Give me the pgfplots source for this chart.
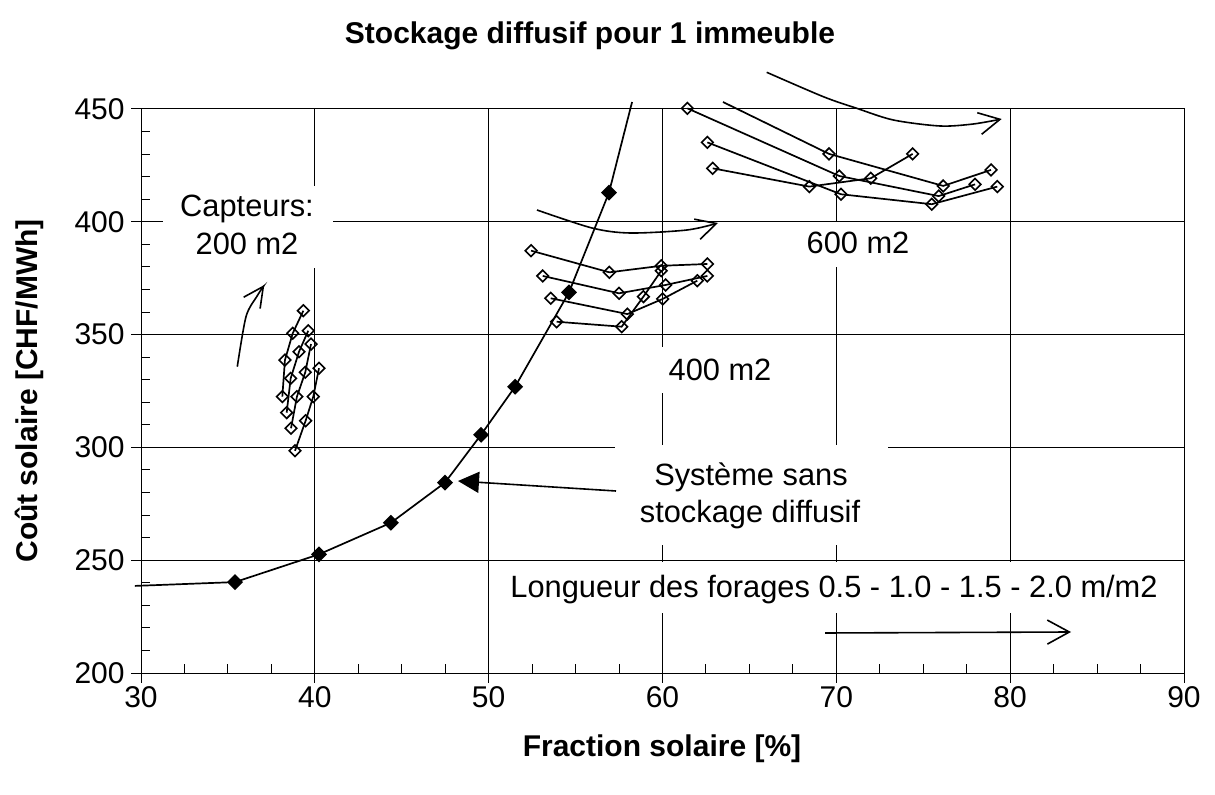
\documentclass[border=0pt]{standalone}
\usepackage{fontspec}
\setmainfont{Liberation Sans}
\usepackage{pgfplots}
\pgfplotsset{compat=1.18}
\usetikzlibrary{arrows.meta}

\newcommand{\lbl}{\fontsize{15pt}{18.75pt}\selectfont}
\newcommand{\ann}{\fontsize{15.4pt}{18.75pt}\selectfont}

\pgfplotsset{
  open/.style={black, line width=0.85pt, mark=square, mark size=2.05pt,
    mark options={rotate=45, fill=white, solid, line width=0.8pt}},
}

\begin{document}
\begin{tikzpicture}[x=0.5pt,y=-0.5pt]
\useasboundingbox (0,0) rectangle (1215,795);
\begin{axis}[
  at={(70.5pt,-336.5pt)}, anchor=south west,
  scale only axis, width=521.5pt, height=282pt,
  xmin=30, xmax=90, ymin=200, ymax=450,
  xtick={30,40,...,90}, ytick={200,250,...,450},
  minor x tick num=3, minor y tick num=4,
  grid=major, major grid style={black, line width=0.5pt},
  axis line style={black, line width=0.5pt},
  tick style={black, line width=0.5pt},
  tick align=inside, major tick length=-5pt, minor tick length=4.5pt,
  tick pos=left,
  clip=false,
  ticklabel style={font=\lbl, inner sep=0pt},
  xticklabel style={anchor=north, yshift=-6.5pt},
  yticklabel style={anchor=east, xshift=-8pt},
  /pgf/number format/assume math mode=true,
]
% sans stockage diffusif
\addplot[black, line width=0.85pt, mark=square*, mark size=2.4pt,
  mark options={rotate=45, fill=black}, mark indices={2,...,9}] coordinates {
  (29.65,238.6) (35.41,240.3) (40.24,252.6) (44.38,266.6) (47.49,284.4)
  (49.56,305.6) (51.52,326.9) (54.62,368.7) (56.92,412.9) (58.25,453.1)};

% 200 m2
\addplot[open] coordinates {(38.13,322.5) (38.28,338.7) (38.73,350.6) (39.34,360.6)};
\addplot[open] coordinates {(38.38,315.4) (38.61,330.6) (39.09,342.4) (39.62,351.7)};
\addplot[open] coordinates {(38.63,308.5) (38.97,322.5) (39.45,333.3) (39.78,345.8)};
\addplot[open] coordinates {(38.86,298.5) (39.47,311.8) (39.91,322.5) (40.24,335.1)};

% 400 m2
\addplot[open] coordinates {(52.44,387.2) (56.94,377.6) (59.93,380.5) (62.58,381.3)};
\addplot[open] coordinates {(53.11,376.0) (57.50,368.3) (60.18,372.0) (62.58,376.0)};
\addplot[open] coordinates {(53.57,366.1) (57.98,359.1) (60.01,365.8) (62.00,373.9)};
\addplot[open] coordinates {(53.91,355.7) (57.65,353.5) (58.90,366.8) (59.93,378.3)};

% 600 m2
\addplot[open, mark indices={2,3,4}] coordinates {(63.48,453.1) (69.58,430.1) (76.15,415.9) (78.90,423.0)};
\addplot[open] coordinates {(61.43,450.3) (70.17,420.3) (75.89,411.4) (77.98,416.6)};
\addplot[open] coordinates {(62.58,435.2) (70.27,412.2) (75.49,407.8) (79.26,415.6)};
\addplot[open] coordinates {(62.89,423.7) (68.45,415.6) (71.98,419.3) (74.39,430.1)};
\end{axis}

% text boxes
\fill[white] (163,186) rectangle (333,268);
\fill[white] (640,347) rectangle (800,393);
\fill[white] (788,222) rectangle (927,267);
\fill[white] (615,445) rectangle (888,545);
\fill[white] (497,562) rectangle (1172,613);

\node[anchor=base, font=\ann, inner sep=0pt] at (247,217) {Capteurs:};
\node[anchor=base, font=\ann, inner sep=0pt] at (247,255) {200 m2};
\node[anchor=base, font=\ann, inner sep=0pt] at (720,381) {400 m2};
\node[anchor=base, font=\ann, inner sep=0pt] at (858,254) {600 m2};
\node[anchor=base, font=\ann, inner sep=0pt] at (751,486) {Système sans};
\node[anchor=base, font=\ann, inner sep=0pt] at (750,523) {stockage diffusif};
\node[anchor=base, font=\ann, inner sep=0pt] at (834,598) {Longueur des forages 0.5 - 1.0 - 1.5 - 2.0 m/m2};

% titles
\node[anchor=base, font=\lbl\bfseries, inner sep=0pt] at (590,44) {Stockage diffusif pour 1 immeuble};
\node[anchor=base, font=\lbl\bfseries, inner sep=0pt] at (662,756) {Fraction solaire [\%]};
\node[anchor=base, font=\lbl\bfseries, inner sep=0pt, rotate=90] at (38,391) {Coût solaire [CHF/MWh]};

% arrows
\draw[line width=0.8pt, -{Straight Barb[length=10pt,width=10pt]}]
  plot[smooth] coordinates {(237.3,366.7) (246,316.7) (256.7,296.7) (264.3,285)};
\draw[line width=0.8pt, -{Straight Barb[length=10pt,width=10.5pt]}]
  plot[smooth] coordinates {(537,210) (592,228) (630,233) (687,230) (718,223)};
\draw[line width=0.8pt, -{Straight Barb[length=10.5pt,width=11pt]}]
  plot[smooth] coordinates {(766.7,72.3) (823.3,96.7) (856.7,108.3) (893.3,120) (940,126) (973.3,124) (1001.7,119)};
\draw[line width=0.8pt, -{Straight Barb[length=11pt,width=12pt]}] (825,633) -- (1071,632);
\draw[line width=0.8pt, -{Triangle[length=10.5pt,width=10.5pt]}] (616,491) -- (458,481);
\end{tikzpicture}
\end{document}
